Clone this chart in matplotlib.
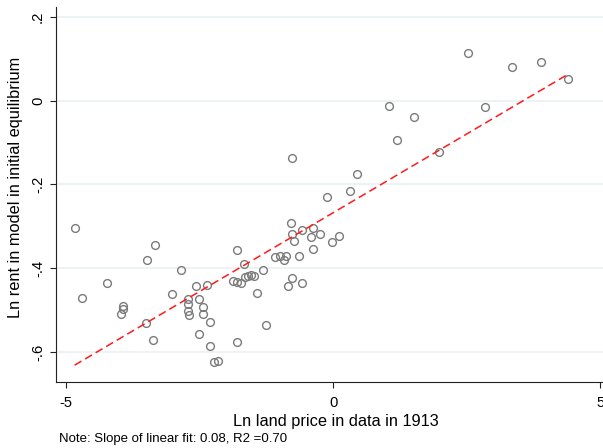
#!/usr/bin/env python3
"""
Scatter of model rent vs. 1913 land price data, with a dashed linear fit.

Recreates a Stata-style graph: hollow grey markers, red dashed fit line,
rotated y tick labels and a note under the plot.
"""

import numpy as np
import matplotlib.pyplot as plt

# Ln land price in data in 1913
LAND_PRICE = [
    2.53, 3.89, 3.35, 4.40, 2.84, 1.05, 1.51, 1.19, 1.98, -0.78,
    0.45, 0.31, -0.12, -0.79, -0.78, -0.59, -0.37, -0.42, -0.24, -0.74,
    -0.02, 0.11, -0.37, -1.09, -1.00, -0.88, -0.92, -0.64, -1.67, -1.31,
    -1.66, -1.60, -1.53, -1.48, -1.73, -1.80, -1.88, -0.77, -0.84, -0.59,
    -1.43, -1.26, -1.81, -2.84, -2.56, -2.36, -3.01, -2.71, -2.52, -2.72,
    -2.44, -2.71, -2.70, -2.43, -2.31, -2.52, -1.81, -2.31, -2.24, -2.16,
    -4.84, -3.34, -3.49, -4.23, -4.71, -3.93, -3.93, -3.97, -3.51, -3.37,
]

# Ln rent in model in initial equilibrium
MODEL_RENT = [
    0.113, 0.093, 0.081, 0.052, -0.015, -0.013, -0.040, -0.093, -0.122, -0.136,
    -0.176, -0.215, -0.230, -0.293, -0.318, -0.309, -0.304, -0.325, -0.318, -0.335,
    -0.337, -0.324, -0.355, -0.372, -0.370, -0.371, -0.381, -0.371, -0.390, -0.404,
    -0.421, -0.418, -0.417, -0.418, -0.434, -0.433, -0.430, -0.422, -0.442, -0.434,
    -0.458, -0.534, -0.356, -0.404, -0.442, -0.440, -0.461, -0.474, -0.474, -0.485,
    -0.491, -0.501, -0.512, -0.509, -0.528, -0.557, -0.576, -0.584, -0.623, -0.620,
    -0.304, -0.345, -0.379, -0.435, -0.471, -0.490, -0.496, -0.508, -0.531, -0.572,
]

X_TICKS = [-5, 0, 5]
X_TICK_LABELS = ['-5', '0', '5']
Y_TICKS = [-0.6, -0.4, -0.2, 0.0, 0.2]
Y_TICK_LABELS = ['-.6', '-.4', '-.2', '0', '.2']

NOTE = 'Note: Slope of linear fit: 0.08, R2 =0.70'

plt.rcParams['font.family'] = ['Liberation Sans', 'DejaVu Sans']


def main():
    """Build the figure and save it to out.png."""
    x = np.array(LAND_PRICE)
    y = np.array(MODEL_RENT)

    fig = plt.figure(figsize=(6.03, 4.48), dpi=100)
    # axes run off the right edge of the canvas, like the cropped original
    ax = fig.add_axes([0.0924, 0.1473, 0.930, 0.837])

    # light Stata-style grid on y ticks only
    for yt in Y_TICKS:
        ax.axhline(yt, color='#e8f0f2', linewidth=1.1, zorder=0)

    ax.plot(x, y, linestyle='none', marker='o', markersize=5.6,
            markerfacecolor='none', markeredgecolor='#7a7a7a',
            markeredgewidth=1.0, zorder=3)

    # linear fit over the observed x range
    slope, intercept = np.polyfit(x, y, 1)
    xs = np.array([x.min(), x.max()])
    ax.plot(xs, intercept + slope * xs, color='#ff1a1a', linewidth=1.1,
            dashes=(5.2, 2.8), zorder=4)

    ax.set_xlim(-5.193, 5.3)
    ax.set_ylim(-0.671, 0.223)

    ax.set_xticks(X_TICKS)
    ax.set_xticklabels(X_TICK_LABELS)
    ax.set_yticks(Y_TICKS)
    ax.set_yticklabels(Y_TICK_LABELS, rotation=90, va='center')
    ax.tick_params(axis='both', direction='out', length=4.3, width=0.8,
                   color='#222222', labelsize=10.6, labelcolor='black')
    ax.tick_params(axis='x', pad=6)
    ax.tick_params(axis='y', pad=3.5)

    for side in ['top', 'right']:
        ax.spines[side].set_visible(False)
    for side in ['left', 'bottom']:
        ax.spines[side].set_color('#222222')
        ax.spines[side].set_linewidth(0.8)

    ax.set_xlabel('Ln land price in data in 1913', fontsize=11.8, labelpad=3)
    ax.set_ylabel('Ln rent in model in initial equilibrium', fontsize=11.8,
                  labelpad=6)
    ax.yaxis.set_label_coords(-0.059, 0.52)

    fig.text(59 / 603, 1 - 439 / 448, NOTE, fontsize=9.5, va='center',
             ha='left')

    fig.savefig('out.png', dpi=100)


if __name__ == "__main__":
    main()
